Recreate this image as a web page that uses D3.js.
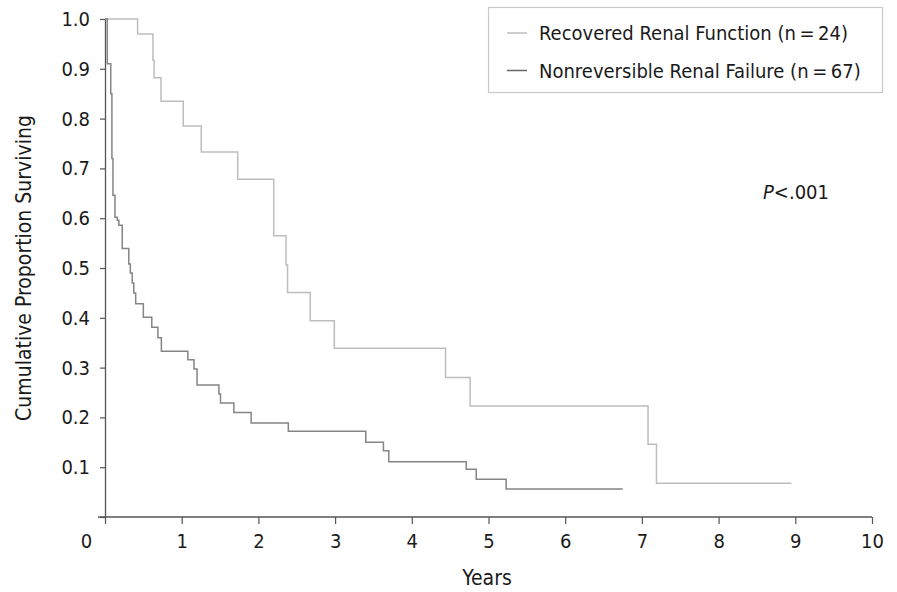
<!DOCTYPE html>
<html>
<head>
<meta charset="utf-8">
<script src="https://cdn.jsdelivr.net/npm/d3@7"></script>
<style>
  html, body { margin: 0; padding: 0; background: #fff; }
  svg { display: block; }
  text { font-family: 'Liberation Sans Narrow', 'DejaVu Sans Condensed', 'Roboto Condensed', 'Liberation Sans', sans-serif; fill: #1a1a1a; }
</style>
</head>
<body>
<svg id="chart" width="897" height="592"></svg>
<script>
// ---- data ----
const recoveredTimes = [0, 0.425, 0.625, 0.64, 0.73, 1.02, 1.255, 1.73, 2.2, 2.36, 2.38, 2.675, 2.99, 4.44, 4.76, 7.08, 7.19, 8.95];
const recoveredSurv  = [1.0, 0.97, 0.917, 0.882, 0.835, 0.785, 0.733, 0.678, 0.565, 0.506, 0.451, 0.394, 0.339, 0.280, 0.223, 0.146, 0.068, 0.068];

const nonrevTimes = [0, 0.03, 0.075, 0.09, 0.104, 0.13, 0.16, 0.18, 0.225, 0.31, 0.33, 0.355, 0.375, 0.40, 0.50, 0.61, 0.69, 0.735, 1.08, 1.16, 1.20, 1.485, 1.506, 1.68, 1.905, 2.39, 3.40, 3.63, 3.70, 4.71, 4.84, 5.23, 6.75];
const nonrevSurv  = [1.0, 0.91, 0.85, 0.72, 0.646, 0.602, 0.596, 0.586, 0.539, 0.508, 0.49, 0.47, 0.45, 0.428, 0.401, 0.381, 0.36, 0.333, 0.316, 0.297, 0.265, 0.247, 0.229, 0.210, 0.189, 0.172, 0.150, 0.133, 0.111, 0.096, 0.076, 0.056, 0.056];

const seriesNames = ["Recovered Renal Function (n\u2009=\u200924)", "Nonreversible Renal Failure (n\u2009=\u200967)"];
const xTicks = [0, 1, 2, 3, 4, 5, 6, 7, 8, 9, 10];
const yTicks = [0, 0.1, 0.2, 0.3, 0.4, 0.5, 0.6, 0.7, 0.8, 0.9, 1.0];
const xTitle = "Years";
const yTitle = "Cumulative Proportion Surviving";
const pText = "<.001";

// ---- drawing ----
const svg = d3.select("#chart");
const x = d3.scaleLinear().domain([0, 10]).range([105, 872]);
const y = d3.scaleLinear().domain([0, 1]).range([517, 19]);
const axisColor = "#555";

// x axis
const xAxis = svg.append("g").attr("transform", `translate(0,${y(0)})`)
  .call(d3.axisBottom(x).tickValues(xTicks).tickSize(7).tickSizeOuter(0).tickFormat(d3.format("d")));
xAxis.select(".domain").attr("stroke", axisColor).attr("stroke-width", 1.3)
  .attr("d", `M${x(0) - 7},0H${x(10)}`);
xAxis.selectAll(".tick line").attr("stroke", axisColor).attr("stroke-width", 1.2);
xAxis.selectAll(".tick text").attr("font-size", 20).attr("dy", "1.05em").attr("fill", "#1a1a1a")
  .attr("font-family", "'Liberation Sans Narrow', 'DejaVu Sans Condensed', 'Liberation Sans', sans-serif")
  .attr("dx", d => d === 0 ? -19 : 0);

// y axis
const yAxis = svg.append("g").attr("transform", `translate(${x(0)},0)`)
  .call(d3.axisLeft(y).tickValues(yTicks).tickSize(5).tickSizeOuter(0).tickPadding(10)
    .tickFormat(d => d === 0 ? "" : d3.format(".1f")(d)));
yAxis.select(".domain").attr("stroke", axisColor).attr("stroke-width", 1.3);
yAxis.selectAll(".tick line").attr("stroke", axisColor).attr("stroke-width", 1.2);
yAxis.selectAll(".tick text").attr("font-size", 20).attr("fill", "#1a1a1a")
  .attr("font-family", "'Liberation Sans Narrow', 'DejaVu Sans Condensed', 'Liberation Sans', sans-serif");

// titles
svg.append("text").attr("x", 487).attr("y", 585).attr("text-anchor", "middle")
  .attr("font-size", 21).text(xTitle);
svg.append("text").attr("transform", "translate(31,268) rotate(-90)").attr("text-anchor", "middle")
  .attr("font-size", 21).text(yTitle);

// curves
const line = d3.line().x(d => x(d[0])).y(d => y(d[1])).curve(d3.curveStepAfter);
const recData = recoveredTimes.map((t, i) => [t, recoveredSurv[i]]);
const nonData = nonrevTimes.map((t, i) => [t, nonrevSurv[i]]);
const colors = ["#bdbdbd", "#858585"];

svg.append("path").datum(recData).attr("d", line).attr("fill", "none")
  .attr("stroke", colors[0]).attr("stroke-width", 1.5);
svg.append("path").datum(nonData).attr("d", line).attr("fill", "none")
  .attr("stroke", colors[1]).attr("stroke-width", 1.5);

// legend
const lg = svg.append("g");
lg.append("rect").attr("x", 488.5).attr("y", 7.5).attr("width", 394).attr("height", 85)
  .attr("fill", "#fff").attr("stroke", "#c8c8c8").attr("stroke-width", 1.2);
seriesNames.forEach((name, i) => {
  const yy = 33 + i * 37.5;
  lg.append("line").attr("x1", 507).attr("x2", 527).attr("y1", yy).attr("y2", yy)
    .attr("stroke", i === 0 ? colors[0] : "#666").attr("stroke-width", 1.5);
  lg.append("text").attr("x", 539).attr("y", yy + 7).attr("font-size", 20).text(name);
});

// P value
const pt = svg.append("text").attr("x", 763).attr("y", 199).attr("font-size", 20);
pt.append("tspan").attr("font-style", "italic").text("P");
pt.append("tspan").text(pText);
</script>
</body>
</html>
